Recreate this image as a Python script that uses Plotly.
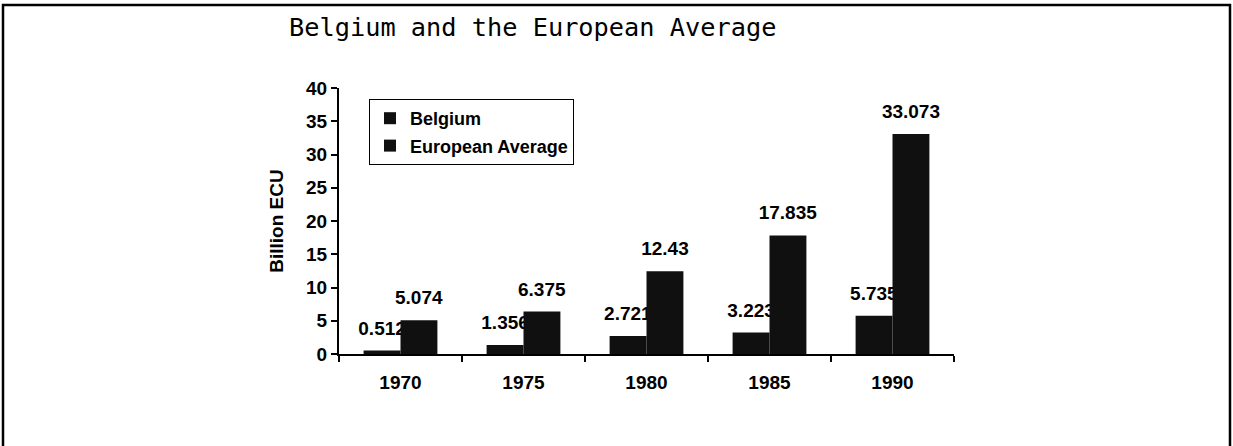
import plotly.graph_objects as go

years = ["1970", "1975", "1980", "1985", "1990"]
belgium = [0.512, 1.356, 2.721, 3.223, 5.735]
european = [5.074, 6.375, 12.43, 17.835, 33.073]
y_ticks = [0, 5, 10, 15, 20, 25, 30, 35, 40]

FONT = "Liberation Sans, Arial, sans-serif"
BAR = "#101010"
LABEL_PAD = 1.35  # gap (in axis units) between bar top and its value label

fig = go.Figure()


def add_series(name, values, group):
    fig.add_trace(go.Bar(
        x=years, y=values, name=name, legendgroup=group, offsetgroup=group,
        marker=dict(color=BAR, line=dict(width=0)), hoverinfo="x+y",
    ))
    # transparent carrier bar sitting on top of the real bar, holding the value label
    fig.add_trace(go.Bar(
        x=years, y=[LABEL_PAD] * len(values), base=values, offsetgroup=group,
        showlegend=False, hoverinfo="skip",
        marker=dict(color="rgba(0,0,0,0)", line=dict(width=0)),
        text=[str(v) for v in values], textposition="outside", textangle=0,
        textfont=dict(family=FONT, size=19, color="black", weight="bold"),
        constraintext="none", cliponaxis=False,
    ))


add_series("Belgium", belgium, "b")
add_series("European Average", european, "e")

fig.update_layout(
    width=1233, height=446, autosize=False,
    margin=dict(l=339, r=279, t=88, b=92, pad=0),
    paper_bgcolor="white", plot_bgcolor="white",
    font=dict(family=FONT, size=19, color="black"),
    barmode="group", bargap=0.4, bargroupgap=0,
    title=dict(text="Belgium and the European Average",
               font=dict(family="DejaVu Sans Mono, monospace", size=25.3, color="black"),
               x=289/1233, xanchor="left", xref="container",
               y=1-27/446, yanchor="middle", yref="container"),
    legend=dict(x=(369-339)/615, y=(354-99)/266, xanchor="left", yanchor="top",
                bgcolor="white", bordercolor="black", borderwidth=1,
                font=dict(family=FONT, size=18, color="black", weight="bold"),
                traceorder="grouped", tracegroupgap=1),
    showlegend=True,
    xaxis=dict(type="category", categoryorder="array", categoryarray=years,
               tickson="boundaries", ticks="outside", ticklen=6, tickwidth=1.5,
               tickcolor="black", showline=True, linecolor="black", linewidth=2,
               showgrid=False, zeroline=False, ticklabelstandoff=10,
               tickfont=dict(family=FONT, size=19, color="black", weight="bold")),
    xaxis2=dict(type="category", categoryorder="array", categoryarray=years,
                overlaying="x", anchor="y", range=[-0.5, 4.5],
                tickson="boundaries", ticks="inside", ticklen=5, tickwidth=1.5,
                tickcolor="black", showticklabels=False, showline=False,
                showgrid=False, zeroline=False),
    yaxis=dict(range=[0, 40], tickvals=y_ticks, ticks="outside", ticklen=6,
               tickwidth=1.5, tickcolor="black", showline=True, linecolor="black",
               linewidth=2, showgrid=False, zeroline=False,
               tickfont=dict(family=FONT, size=19, color="black", weight="bold"),
               title=dict(text="Billion ECU", standoff=17,
                          font=dict(family=FONT, size=19, color="black", weight="bold"))),
    shapes=[dict(type="rect", xref="paper", yref="paper",
                 x0=(3-339)/615, x1=(1230-339)/615,
                 y0=(354-470)/266, y1=(354-5)/266,
                 line=dict(color="black", width=2.5), fillcolor="rgba(0,0,0,0)",
                 layer="below")],
)

fig.write_html(
    "out.html",
    config={"displayModeBar": False},
    post_script="document.body.style.margin='0';document.body.style.overflow='hidden';",
)
